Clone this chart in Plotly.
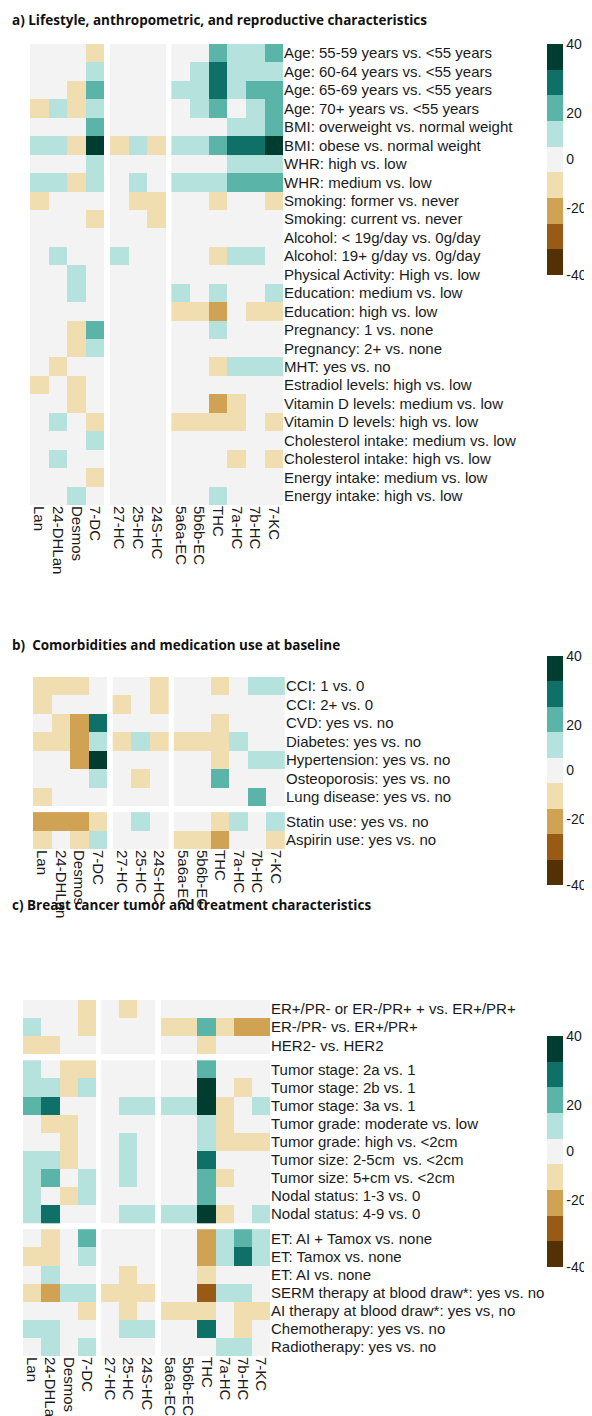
import plotly.graph_objects as go

W, H = 592, 1416
columns = ["Lan", "24-DHLan", "Desmos", "7-DC", "27-HC", "25-HC", "24S-HC",
           "5a6a-EC", "5b6b-EC", "THC", "7a-HC", "7b-HC", "7-KC"]
col_groups = [4, 3, 6]

# Effect estimates (binned % difference; 1 unit ~ 8.9 %)
rows_a = ["Age: 55-59 years vs. <55 years", "Age: 60-64 years vs. <55 years",
          "Age: 65-69 years vs. <55 years", "Age: 70+ years vs. <55 years",
          "BMI: overweight vs. normal weight", "BMI: obese vs. normal weight",
          "WHR: high vs. low", "WHR: medium vs. low",
          "Smoking: former vs. never", "Smoking: current vs. never",
          "Alcohol: < 19g/day vs. 0g/day", "Alcohol: 19+ g/day vs. 0g/day",
          "Physical Activity: High vs. low", "Education: medium vs. low",
          "Education: high vs. low", "Pregnancy: 1 vs. none", "Pregnancy: 2+ vs. none",
          "MHT: yes vs. no", "Estradiol levels: high vs. low",
          "Vitamin D levels: medium vs. low", "Vitamin D levels: high vs. low",
          "Cholesterol intake: medium vs. low", "Cholesterol intake: high vs. low",
          "Energy intake: medium vs. low", "Energy intake: high vs. low"]
vals_a = [
    [0,0,0,-1, 0,0,0, 0,0,2,1,1,2],
    [0,0,0,1, 0,0,0, 0,1,3,1,1,1],
    [0,0,-1,2, 0,0,0, 1,1,3,1,2,2],
    [-1,1,-1,1, 0,0,0, 0,1,2,0,1,2],
    [0,0,0,2, 0,0,0, 0,0,0,1,1,2],
    [1,1,-1,4, -1,1,-1, 1,1,2,3,3,4],
    [0,0,0,1, 0,0,0, 0,0,0,1,1,1],
    [1,1,-1,1, 0,1,0, 1,1,1,2,2,2],
    [-1,0,0,0, 0,-1,-1, 0,0,-1,0,0,-1],
    [0,0,0,-1, 0,0,-1, 0,0,0,0,0,0],
    [0,0,0,0, 0,0,0, 0,0,0,0,0,0],
    [0,1,0,0, 1,0,0, 0,0,-1,1,1,0],
    [0,0,1,0, 0,0,0, 0,0,0,0,0,0],
    [0,0,1,0, 0,0,0, 1,0,1,0,0,1],
    [0,0,0,0, 0,0,0, -1,-1,-2,0,-1,-1],
    [0,0,-1,2, 0,0,0, 0,0,1,0,0,0],
    [0,0,-1,1, 0,0,0, 0,0,0,0,0,0],
    [0,-1,0,0, 0,0,0, 0,0,-1,1,1,1],
    [-1,0,-1,0, 0,0,0, 0,0,0,0,0,0],
    [0,0,-1,0, 0,0,0, 0,0,-2,-1,0,0],
    [0,1,0,-1, 0,0,0, -1,-1,-1,-1,0,-1],
    [0,0,0,1, 0,0,0, 0,0,0,0,0,0],
    [0,1,0,0, 0,0,0, 0,0,0,-1,0,-1],
    [0,0,0,-1, 0,0,0, 0,0,0,0,0,0],
    [0,0,1,0, 0,0,0, 0,0,1,0,0,0],
]
row_groups_a = [25]

rows_b = ["CCI: 1 vs. 0", "CCI: 2+ vs. 0", "CVD: yes vs. no", "Diabetes: yes vs. no",
          "Hypertension: yes vs. no", "Osteoporosis: yes vs. no", "Lung disease: yes vs. no",
          "Statin use: yes vs. no", "Aspirin use: yes vs. no"]
vals_b = [
    [-1,-1,-1,0, 0,0,-1, 0,0,-1,0,1,1],
    [-1,0,0,0, -1,0,-1, 0,0,0,0,0,0],
    [0,-1,-2,3, 0,0,0, 0,0,-1,0,0,0],
    [-1,-1,-2,1, -1,1,-1, -1,-1,-1,1,0,0],
    [0,0,-2,4, 0,0,0, 0,0,-1,0,1,1],
    [0,0,0,1, 0,-1,0, 0,0,2,0,0,0],
    [-1,0,0,0, 0,0,0, 0,0,0,0,2,0],
    [-2,-2,-2,-1, 0,1,0, 0,0,-1,1,0,1],
    [-1,0,-1,1, 0,0,0, -1,-1,-2,0,0,-1],
]
row_groups_b = [7, 2]

rows_c = ["ER+/PR- or ER-/PR+ + vs. ER+/PR+", "ER-/PR- vs. ER+/PR+", "HER2- vs. HER2",
          "Tumor stage: 2a vs. 1", "Tumor stage: 2b vs. 1", "Tumor stage: 3a vs. 1",
          "Tumor grade: moderate vs. low", "Tumor grade: high vs. <2cm",
          "Tumor size: 2-5cm  vs. <2cm", "Tumor size: 5+cm vs. <2cm",
          "Nodal status: 1-3 vs. 0", "Nodal status: 4-9 vs. 0",
          "ET: AI + Tamox vs. none", "ET: Tamox vs. none", "ET: AI vs. none",
          "SERM therapy at blood draw*: yes vs. no", "AI therapy at blood draw*: yes vs, no",
          "Chemotherapy: yes vs. no", "Radiotherapy: yes vs. no"]
vals_c = [
    [0,0,0,-1, 0,-1,0, 0,0,0,0,0,0],
    [1,0,0,-1, 0,0,0, -1,-1,2,-1,-2,-2],
    [-1,-1,0,0, 0,0,0, 0,0,-1,0,0,0],
    [1,0,-1,-1, 0,0,0, 0,0,2,0,0,0],
    [1,1,-1,1, 0,0,0, 0,0,4,0,-1,0],
    [2,3,0,0, 0,1,1, 1,1,4,-1,0,1],
    [0,-1,-1,0, 0,0,0, 0,0,1,-1,0,0],
    [0,0,-1,0, 0,1,0, 0,0,1,-1,-1,-1],
    [1,1,-1,0, 0,1,0, 0,0,3,0,0,0],
    [1,2,0,1, 0,1,0, 0,0,2,-1,0,0],
    [1,0,-1,1, 0,0,0, 0,0,2,0,0,0],
    [1,3,0,0, 0,1,1, 1,1,4,-1,0,1],
    [0,-1,0,2, 0,0,0, 0,0,-2,1,2,1],
    [-1,-1,0,1, 0,0,0, 0,0,-2,1,3,1],
    [0,1,0,0, 0,-1,0, 0,0,-1,0,0,0],
    [-1,-2,1,1, -1,-1,-1, 0,0,-3,1,1,0],
    [0,0,0,-1, 0,-1,0, -1,-1,-1,0,-1,-1],
    [1,1,0,0, 0,1,1, 0,0,3,0,-1,0],
    [0,1,0,1, 0,0,0, 0,0,0,1,1,0],
]
row_groups_c = [3, 9, 7]

titles = ["a) Lifestyle, anthropometric, and reproductive characteristics",
          "b)  Comorbidities and medication use at baseline",
          "c) Breast cancer tumor and treatment characteristics"]

colors = ["#543005", "#995a16", "#d0a254", "#f1deb0", "#f3f3f3",
          "#b5e2dd", "#5ab4a8", "#0f7068", "#003c30"]
cs = []
for i, c in enumerate(colors):
    cs.append([i / 9, c]); cs.append([(i + 1) / 9, c])

FONT = "Arial, Liberation Sans"
TF = dict(size=15, color="#1a1a1a", family=FONT)

fig = go.Figure()
GX, GY = 0.3, 0.33

def positions(groups, gap):
    pos, start = [], 0.0
    for gi, n in enumerate(groups):
        pos.append([start + k for k in range(n)])
        start += n + gap
    return pos

panels = [
    dict(rows=rows_a, vals=vals_a, rg=row_groups_a, x0=22, x1=275, y0=36, y1=497,
         cb=(539, 36, 267), title_y=12),
    dict(rows=rows_b, vals=vals_b, rg=row_groups_b, x0=25, x1=277, y0=669, y1=841,
         cb=(539, 648, 877), title_y=637),
    dict(rows=rows_c, vals=vals_c, rg=row_groups_c, x0=15, x1=262, y0=992, y1=1348,
         cb=(539, 1028, 1259), title_y=897),
]
xpos = positions(col_groups, GX)
xflat = [p for g in xpos for p in g]
step = 80 / 9
for pi, P in enumerate(panels):
    sfx = "" if pi == 0 else str(pi + 1)
    ypos = positions(P["rg"], GY)
    yflat = [p for g in ypos for p in g]
    ci = 0
    for cg in xpos:
        ri = 0
        for rg in ypos:
            z = [[P["vals"][ri + r][ci + c] * step for c in range(len(cg))] for r in range(len(rg))]
            fig.add_trace(go.Heatmap(x=cg, y=rg, z=z, coloraxis="coloraxis" + sfx,
                                     xaxis="x" + sfx, yaxis="y" + sfx, hoverinfo="skip"))
            ri += len(rg)
        ci += len(cg)
    fig.layout["xaxis" + sfx] = dict(domain=[P["x0"] / W, P["x1"] / W], range=[-0.5, xflat[-1] + 0.5],
                                     tickvals=xflat, ticktext=columns, tickangle=90, showgrid=False,
                                     zeroline=False, anchor="y" + sfx, ticks="", ticklen=0,
                                     tickfont=TF)
    fig.layout["yaxis" + sfx] = dict(domain=[1 - P["y1"] / H, 1 - P["y0"] / H],
                                     range=[yflat[-1] + 0.5, -0.5], tickvals=yflat, ticktext=P["rows"],
                                     side="right", showgrid=False, zeroline=False, anchor="x" + sfx,
                                     ticks="", tickfont=TF)
    cx, ct, cb = P["cb"]
    fig.layout["coloraxis" + sfx] = dict(
        colorscale=cs, cmin=-40, cmax=40,
        colorbar=dict(x=cx / W, xanchor="left", y=1 - ct / H, yanchor="top", xpad=0, ypad=0,
                      len=(cb - ct) / H, lenmode="fraction", thickness=16, outlinewidth=0,
                      tickvals=[40, 16, 0, -17, -40], ticktext=["40", "20", "0", "-20", "-40"],
                      ticks="", tickfont=dict(size=14, color="#1a1a1a", family=FONT)))
    fig.add_annotation(x=2 / W, y=1 - P["title_y"] / H, xref="paper", yref="paper",
                       xanchor="left", yanchor="middle", showarrow=False, text="<b>%s</b>" % titles[pi],
                       font=dict(size=13.5, color="#111", family="Open Sans"))

fig.update_layout(width=W, height=H, margin=dict(l=0, r=0, t=0, b=0),
                  paper_bgcolor="white", plot_bgcolor="white",
                  font=dict(family=FONT))
fig.write_html("out.html")
